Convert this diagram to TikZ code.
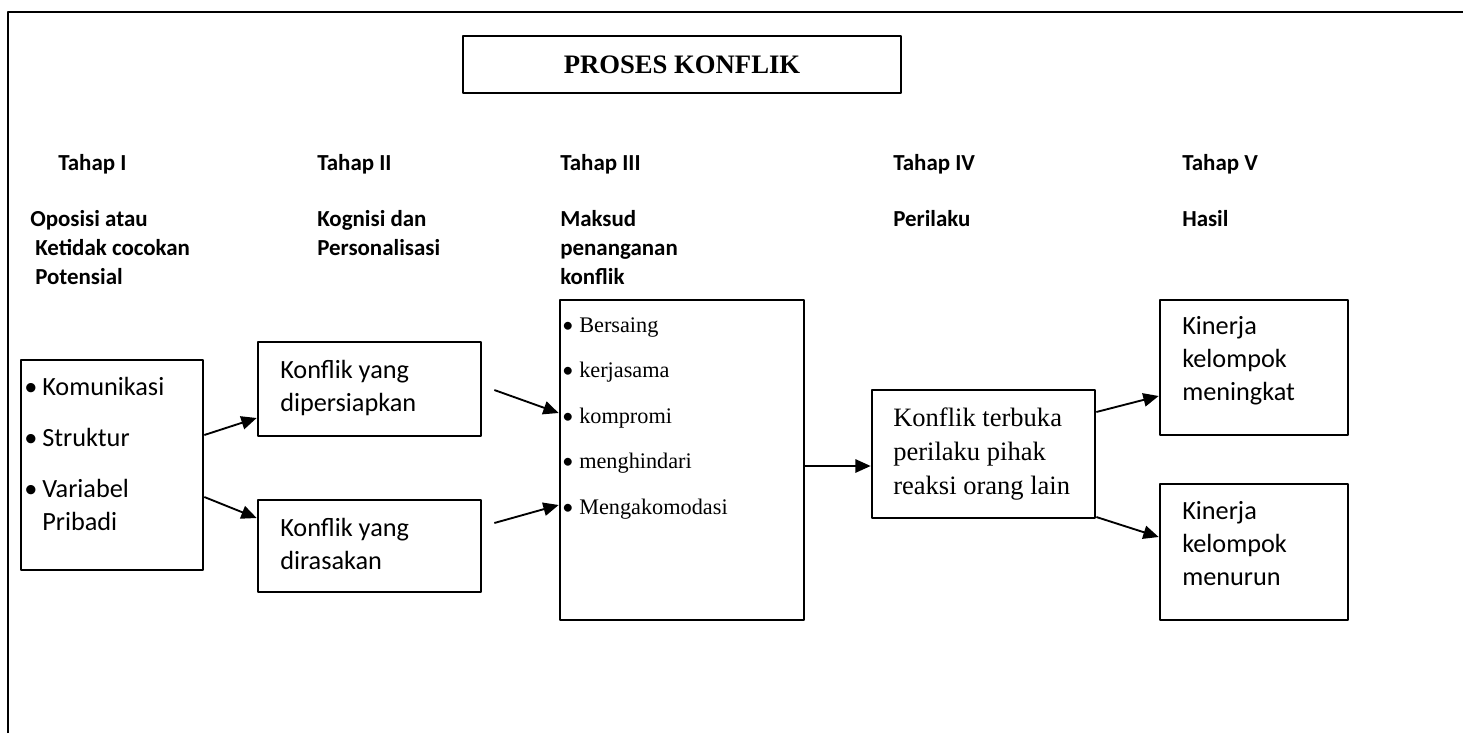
\documentclass[tikz,border=0pt]{standalone}
\usepackage{fontspec}
\setmainfont{Carlito}
\newfontfamily\tnr{Liberation Serif}
\usetikzlibrary{arrows.meta,fit}
\tikzset{
  box/.style={draw, line width=2pt, inner sep=0pt},
  arr/.style={-{Triangle[length=11.5pt,width=10pt]}, line width=1.4pt},
  head/.style={anchor=base west, inner sep=0pt, align=left, font=\bfseries\fontsize{17.2}{21.75}\selectfont},
  isi/.style={anchor=base west, inner sep=0pt, align=left, font=\fontsize{19.7}{24.4}\selectfont},
  isitnr/.style={anchor=base west, inner sep=0pt, align=left, font=\tnr\fontsize{19.9}{25.5}\selectfont},
}
\newcommand\bul[1][13.5pt]{\makebox[#1][l]{\rmfamily\textbullet}}
\begin{document}
\begin{tikzpicture}[x=0.75pt, y=-0.75pt, line join=round]
\useasboundingbox (0,0) rectangle (1463,733);
% bingkai
\draw[line width=1.4pt] (8,733) -- (8,12) -- (1463,12);
% judul
\node[box, fit={(463,36) (901,93)}] (judul) {};
\node[font=\tnr\bfseries\fontsize{20}{24}\selectfont, inner sep=0pt] (judult) at (judul.center) {PROSES KONFLIK};
% tahap (anchor base = baris terakhir)
\foreach \x/\r in {58/I,317/II,560/III,893/IV,1182/V}
  \node[head] (tahap\r) at (\x,170) {Tahap \r};
\node[head] (ketI) at (30,284) {Oposisi atau\\\hspace*{3.75pt}Ketidak cocokan\\\hspace*{3.75pt}Potensial};
\node[head] (ketII) at (317,255) {Kognisi dan\\Personalisasi};
\node[head] (ketIII) at (560,284) {Maksud\\penanganan\\konflik};
\node[head] (ketIV) at (893,226) {Perilaku};
\node[head] (ketV) at (1182,226) {Hasil};
% kotak
\node[box, fit={(21,360) (203,570)}] (sumber) {};
\node[isi] (sumbert) at (24,530) {\bul Komunikasi\\[14pt]\bul Struktur\\[14pt]\bul Variabel\\\hspace*{13.5pt}Pribadi};
\node[box, fit={(258,342) (481,436)}] (siap) {};
\node[isi] (siapt) at (280,411) {Konflik yang\\dipersiapkan};
\node[box, fit={(258,500) (481,592)}] (rasa) {};
\node[isi] (rasat) at (280,569) {Konflik yang\\dirasakan};
\node[box, fit={(560,300) (804,620)}] (maksud) {};
\node[isitnr, font=\tnr\fontsize{16.7}{34.1}\selectfont] (maksudt) at (562,514)
  {\bul[12.75pt]Bersaing\\\bul[12.75pt]kerjasama\\\bul[12.75pt]kompromi\\\bul[12.75pt]menghindari\\\bul[12.75pt]Mengakomodasi};
\node[box, fit={(872,390) (1095,518)}] (perilaku) {};
\node[isitnr] (perilakut) at (893,494) {Konflik terbuka\\perilaku pihak\\reaksi orang lain};
\node[box, fit={(1160,300) (1348,435)}] (naik) {};
\node[isi] (naikt) at (1182,400) {Kinerja\\kelompok\\meningkat};
\node[box, fit={(1160,484) (1348,620)}] (turun) {};
\node[isi] (turunt) at (1182,585) {Kinerja\\kelompok\\menurun};
% panah
\draw[arr] (sumber.east |- 0,435) -- (siap.west |- 0,418);
\draw[arr] (sumber.east |- 0,497) -- (rasa.west |- 0,518);
\draw[arr] ([xshift=9pt]siap.east |- 0,390) -- (maksud.west |- 0,413);
\draw[arr] ([xshift=9pt]rasa.east |- 0,523) -- (maksud.west |- 0,505);
\draw[arr] (maksud.east |- 0,466) -- (perilaku.west |- 0,466);
\draw[arr] (perilaku.east |- 0,412) -- (naik.west |- 0,396);
\draw[arr] (perilaku.east |- 0,517) -- (turun.west |- 0,537);
\end{tikzpicture}
\end{document}
